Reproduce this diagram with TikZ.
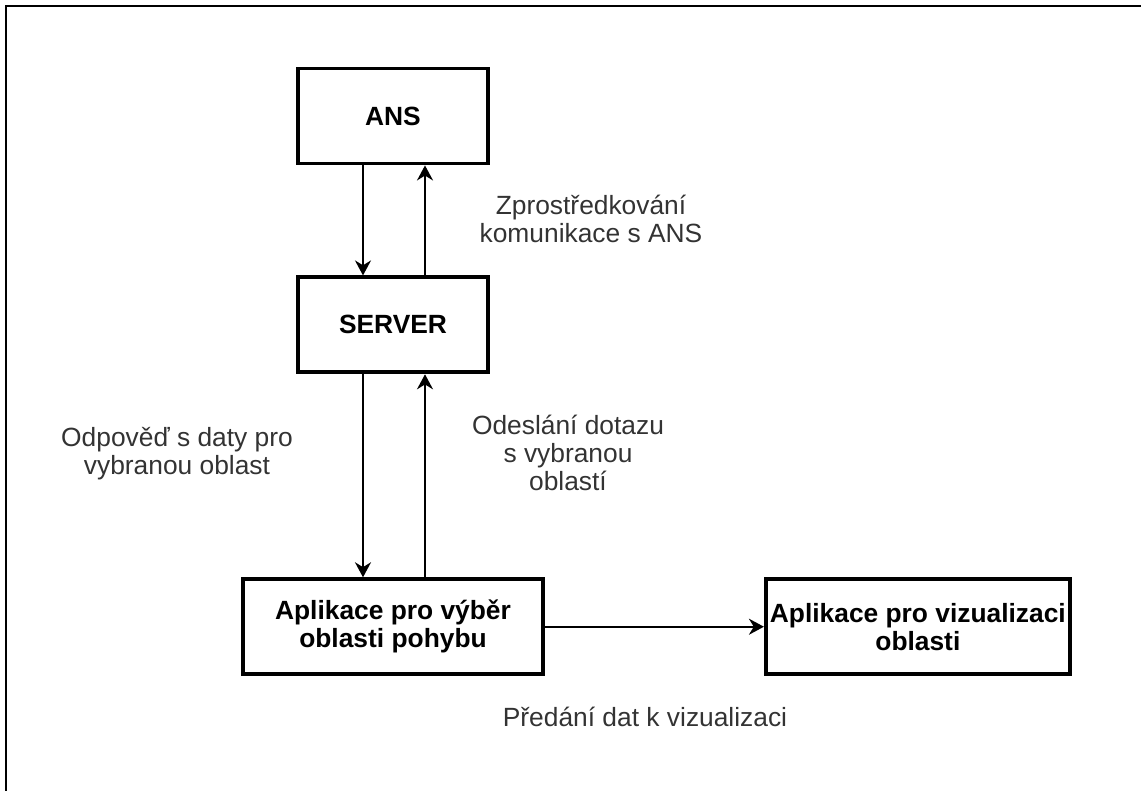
\documentclass[tikz,border=0pt]{standalone}
\usepackage{fontspec}
\setmainfont{Liberation Sans}
\usetikzlibrary{arrows.meta, positioning}

\begin{document}
\begin{tikzpicture}[
    >={Stealth[length=0.3cm, width=0.32cm]},
    node distance=2.18cm and 4.34cm,
    block/.style={draw, line width=2.2pt, minimum width=#1, minimum height=1.9cm, font=\fontsize{15}{16}\selectfont\bfseries, align=center, inner sep=0pt},
    block/.default=3.8cm,
    arrow/.style={->, line width=1.2pt},
    note/.style={font=\fontsize{15}{16}\selectfont, text=black!80, align=center},
]
\useasboundingbox (0,0) rectangle (22.82,-15.82);

% Frame
\draw[line width=1.7pt] (0.12,-15.82) -- (0.12,-0.12) -- (22.82,-0.12);

% Blocks
\node[block] (ans) at (7.86,-2.32) {ANS};
\node[block, below=2.2cm of ans] (server) {SERVER};
\node[block=6.0cm, below=4.06cm of server] (app) {Aplikace pro výběr\\oblasti pohybu};
\node[block=6.08cm, right=4.38cm of app] (vis) {Aplikace pro vizualizaci\\oblasti};

% Arrows
\draw[arrow] ([xshift=-0.6cm]ans.south) -- ([xshift=-0.6cm]server.north);
\draw[arrow] ([xshift=0.64cm]server.north) -- ([xshift=0.64cm]ans.south);
\draw[arrow] ([xshift=-0.6cm]server.south) -- ([xshift=-0.6cm]app.north);
\draw[arrow] ([xshift=0.64cm]app.north) -- ([xshift=0.64cm]server.south);
\draw[arrow] (app) -- (vis);

% Notes
\node[note] (notecomm) at (11.82,-4.38) {Zprostředkování\\komunikace s ANS};
\node[note] (notereply) at (3.54,-9.08) {Odpověď s daty pro\\vybranou oblast};
\node[note] (notequery) at (11.36,-9.06) {Odeslání dotazu\\s vybranou\\oblastí};
\node[note] (notepass) at (12.9,-14.34) {Předání dat k vizualizaci};

\end{tikzpicture}
\end{document}
